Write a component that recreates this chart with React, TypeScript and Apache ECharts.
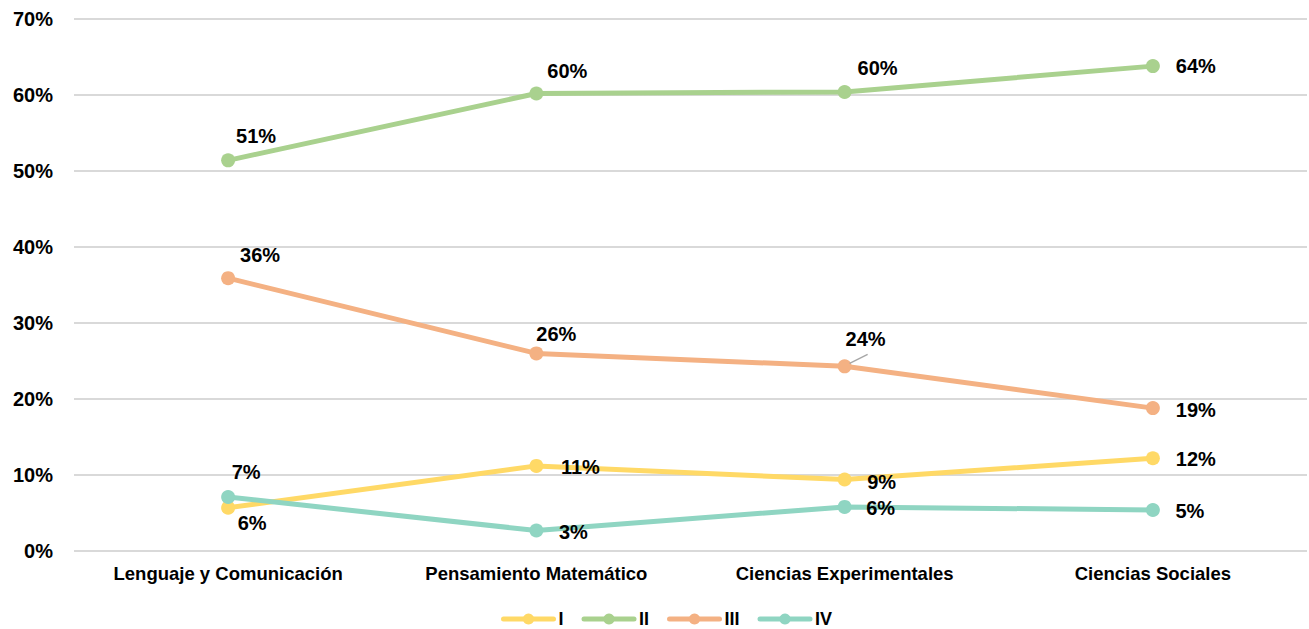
import React, { useEffect, useRef } from "react";
import * as echarts from "echarts";

// Subject areas (x axis)
const categories = [
  "Lenguaje y Comunicación",
  "Pensamiento Matemático",
  "Ciencias Experimentales",
  "Ciencias Sociales",
];

// Share of students per level, in percent
const levelI = [5.7, 11.2, 9.4, 12.2];
const levelII = [51.4, 60.2, 60.4, 63.8];
const levelIII = [35.9, 26.0, 24.3, 18.8];
const levelIV = [7.1, 2.7, 5.8, 5.4];

const seriesNames = ["I", "II", "III", "IV"];
const seriesColors = ["#FFD966", "#A9D18E", "#F4B183", "#8FD5C2"];

// Label offsets from each point's centre, in pixels
const offsetsI = [[24, 15], [44, 1], [37, 2], [43, 1]];
const offsetsII = [[28, -24], [31, -22], [33, -24], [43, 0]];
const offsetsIII = [[32, -23], [20, -19], [21, -27], [43, 2]];
const offsetsIV = [[18, -25], [37, 2], [36, 1], [37, 1]];

const yTicks = [0, 10, 20, 30, 40, 50, 60, 70];

const FONT = "Liberation Sans, Arial, sans-serif";

function buildSeries(name: string, values: number[], offsets: number[][], color: string) {
  return {
    name,
    type: "line",
    data: values.map((v, i) => ({
      value: v,
      label: { offset: offsets[i] },
    })),
    symbol: "circle",
    symbolSize: 14,
    lineStyle: { width: 5, color, cap: "round" },
    itemStyle: { color },
    label: {
      show: true,
      position: "inside",
      align: "center",
      verticalAlign: "middle",
      formatter: (p: any) => Math.round(p.value) + "%",
      color: "#000",
      fontFamily: FONT,
      fontWeight: "bold",
      fontSize: 20,
    },
    emphasis: { disabled: true },
    z: 3,
  };
}

export default function App() {
  const ref = useRef<HTMLDivElement>(null);

  useEffect(() => {
    if (!ref.current) return;
    const chart = echarts.init(ref.current, undefined, { renderer: "svg" });
    chart.setOption({
      animation: false,
      backgroundColor: "#fff",
      grid: { left: 74, right: 2, top: 19, bottom: 78, containLabel: false },
      legend: {
        data: seriesNames,
        top: 605,
        left: 496,
        itemWidth: 50,
        itemHeight: 14,
        itemGap: 18,
        lineStyle: { width: 5, cap: "round" },
        textStyle: { color: "#000", fontFamily: FONT, fontWeight: "bold", fontSize: 18 },
      },
      xAxis: {
        type: "category",
        data: categories,
        boundaryGap: true,
        axisLine: { show: false },
        axisTick: { show: false },
        axisLabel: {
          margin: 13,
          color: "#000",
          fontFamily: FONT,
          fontWeight: "bold",
          fontSize: 18.5,
        },
      },
      yAxis: {
        type: "value",
        min: yTicks[0],
        max: yTicks[yTicks.length - 1],
        interval: 10,
        axisLine: { show: false },
        axisTick: { show: false },
        splitLine: { lineStyle: { color: "#d9d9d9", width: 2 } },
        axisLabel: {
          margin: 21,
          color: "#000",
          fontFamily: FONT,
          fontWeight: "bold",
          fontSize: 20,
          formatter: (v: number) => v + "%",
        },
      },
      series: [
        buildSeries(seriesNames[0], levelI, offsetsI, seriesColors[0]),
        buildSeries(seriesNames[1], levelII, offsetsII, seriesColors[1]),
        buildSeries(seriesNames[2], levelIII, offsetsIII, seriesColors[2]),
        buildSeries(seriesNames[3], levelIV, offsetsIV, seriesColors[3]),
      ],
    });

    // Leader line from the "24%" label to its point
    const p = chart.convertToPixel({ seriesIndex: 2 }, [2, levelIII[2]]) as number[];
    if (p) {
      chart.setOption({
        graphic: [
          {
            type: "line",
            z: 10,
            shape: { x1: p[0] + 5, y1: p[1] - 3, x2: p[0] + 23, y2: p[1] - 12 },
            style: { stroke: "#a6a6a6", lineWidth: 1.5 },
          },
        ],
      });
    }

    return () => chart.dispose();
  }, []);

  return (
    <div
      ref={ref}
      style={{ position: "fixed", left: 0, top: 0, width: 1309, height: 629 }}
    />
  );
}
